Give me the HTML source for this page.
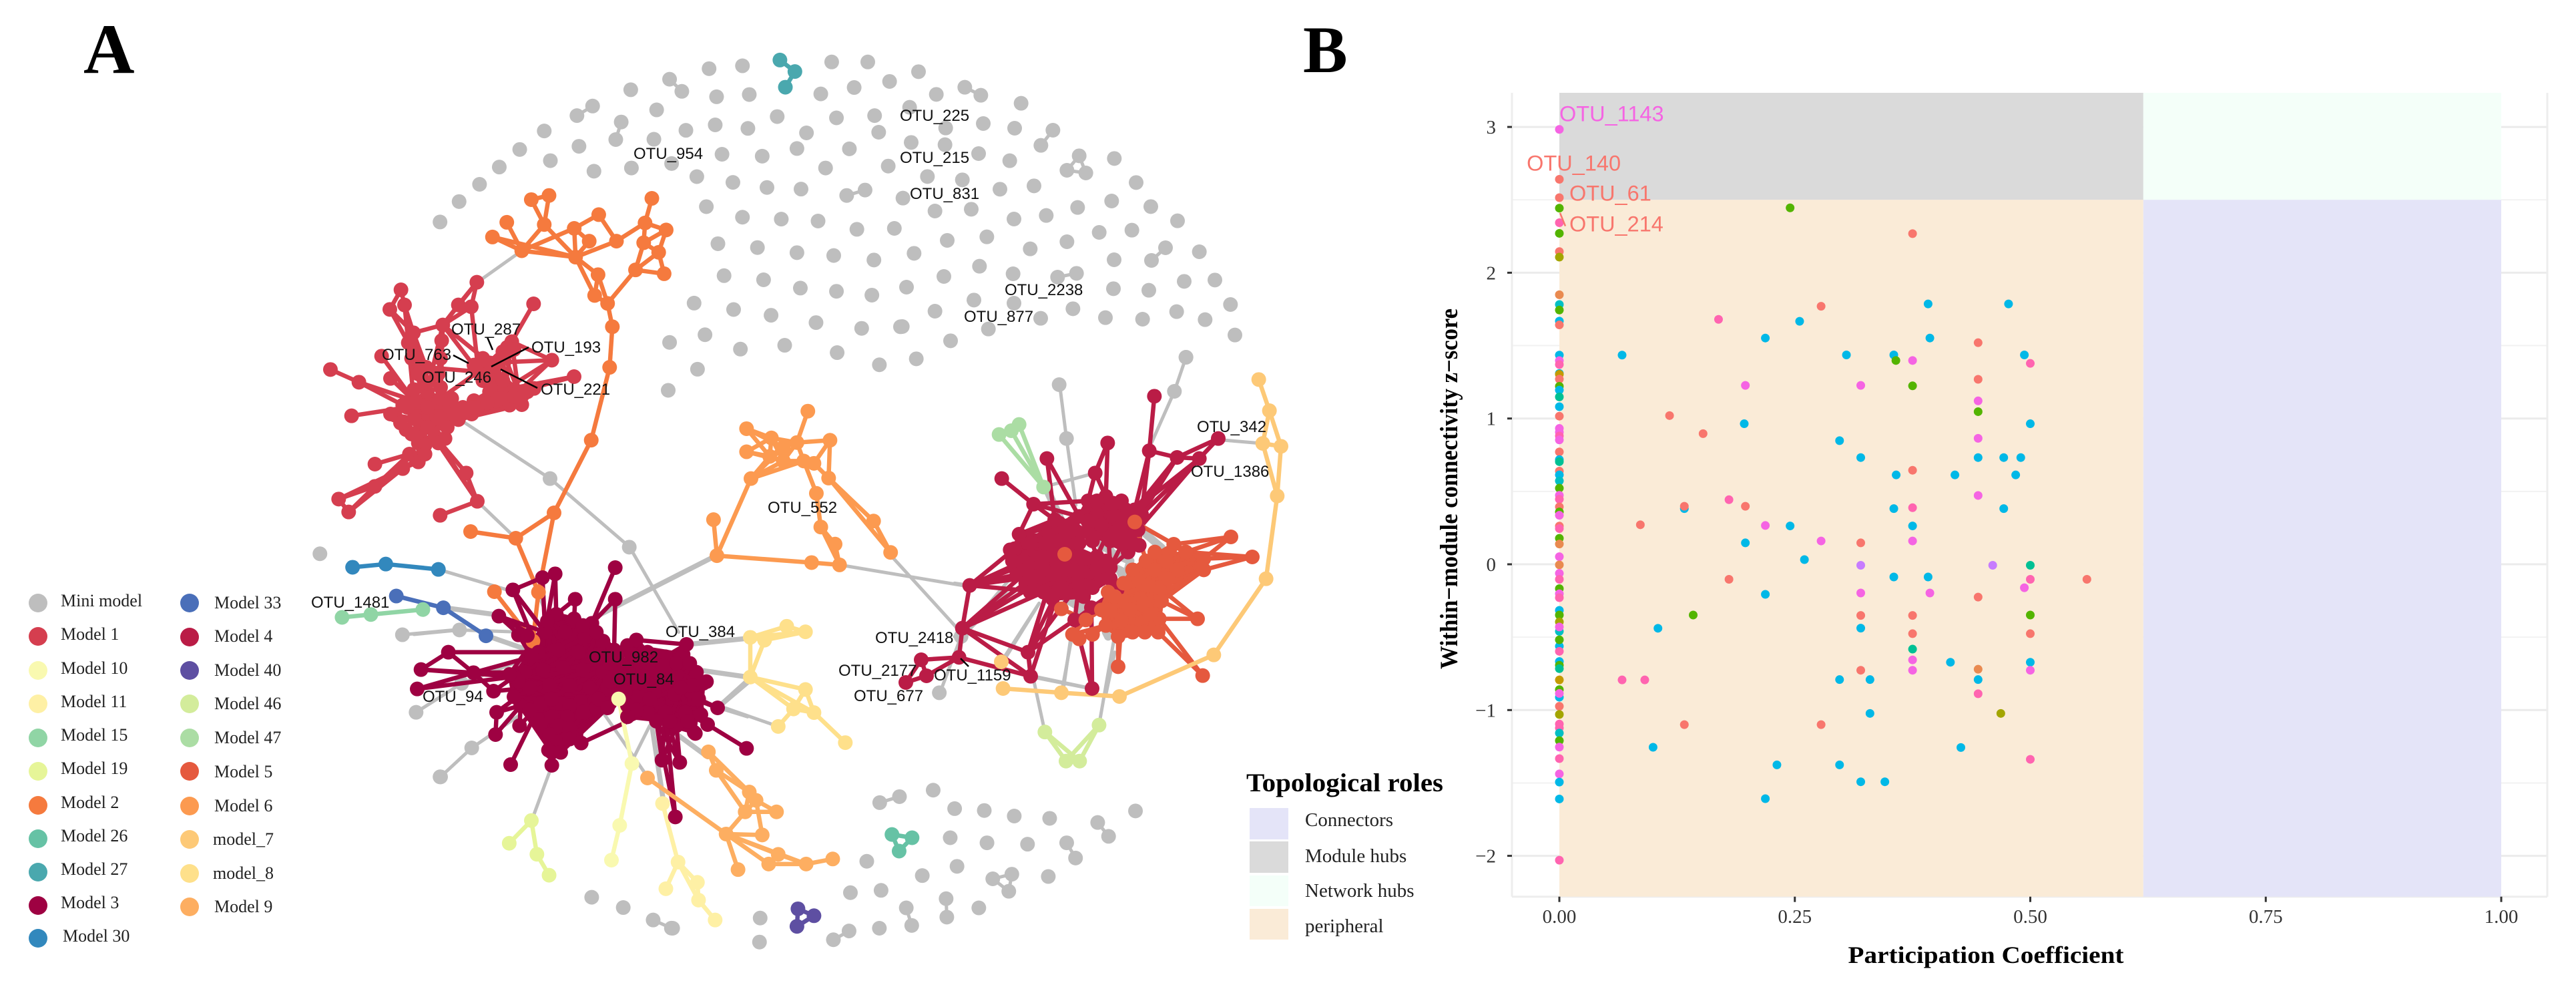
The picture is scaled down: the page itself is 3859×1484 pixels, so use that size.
<!DOCTYPE html>
<html lang="en">
<head>
<meta charset="utf-8">
<title>Co-occurrence network and topological roles</title>
<style>
html,body{margin:0;padding:0;background:#fff;}
svg{display:block;}
.serif{font-family:"Liberation Serif",serif;}
.sans{font-family:"Liberation Sans",sans-serif;}
.otu{font-family:"Liberation Sans",sans-serif;font-size:24px;fill:#111;}
.leg{font-family:"Liberation Serif",serif;font-size:26px;fill:#222;}
.role{font-family:"Liberation Serif",serif;font-size:29px;fill:#222;}
.tick{font-family:"Liberation Serif",serif;font-size:29px;fill:#333;}
.role-label{font-family:"Liberation Sans",sans-serif;font-size:32.5px;}
</style>
</head>
<body>
<svg id="fig" xmlns="http://www.w3.org/2000/svg" width="3859" height="1484" viewBox="0 0 3859 1484">
  <rect x="0" y="0" width="3859" height="1484" fill="#fff"/>
  <text class="serif" x="125" y="109" font-size="106" font-weight="700" fill="#000">A</text>
  <text class="serif" x="1952" y="108" font-size="100" font-weight="700" fill="#000">B</text>

  <g id="network"></g>

  <g>
    <line x1="730" y1="505" x2="738" y2="524" stroke="#000" stroke-width="2.5"/>
    <line x1="679" y1="532" x2="702" y2="544" stroke="#000" stroke-width="2.5"/>
    <line x1="792" y1="520" x2="736" y2="549" stroke="#000" stroke-width="2.5"/>
    <line x1="805" y1="581" x2="750" y2="553" stroke="#000" stroke-width="2.5"/>
    <line x1="1439" y1="986" x2="1451" y2="998" stroke="#000" stroke-width="2.5"/>
    <text class="otu" x="1348" y="181">OTU_225</text>
    <text class="otu" x="1348" y="244">OTU_215</text>
    <text class="otu" x="1363" y="298">OTU_831</text>
    <text class="otu" x="949" y="238">OTU_954</text>
    <text class="otu" x="1505" y="442">OTU_2238</text>
    <text class="otu" x="1444" y="482">OTU_877</text>
    <text class="otu" x="676" y="501">OTU_287</text>
    <text class="otu" x="572" y="539">OTU_763</text>
    <text class="otu" x="796" y="528">OTU_193</text>
    <text class="otu" x="632" y="573">OTU_246</text>
    <text class="otu" x="810" y="591">OTU_221</text>
    <text class="otu" x="1150" y="768">OTU_552</text>
    <text class="otu" x="1793" y="647">OTU_342</text>
    <text class="otu" x="1784" y="714">OTU_1386</text>
    <text class="otu" x="1311" y="963">OTU_2418</text>
    <text class="otu" x="1256" y="1012">OTU_2177</text>
    <text class="otu" x="1399" y="1019">OTU_1159</text>
    <text class="otu" x="1279" y="1050">OTU_677</text>
    <text class="otu" x="997" y="954">OTU_384</text>
    <text class="otu" x="882" y="992">OTU_982</text>
    <text class="otu" x="919" y="1025">OTU_84</text>
    <text class="otu" x="633" y="1051">OTU_94</text>
    <text class="otu" x="466" y="910">OTU_1481</text>
  </g>

  <g>
    <g><circle cx="57" cy="903" r="14" fill="#BEBEBE"/><text class="leg" x="91" y="908">Mini model</text></g>
    <g><circle cx="57" cy="953" r="14" fill="#D53E4F"/><text class="leg" x="91" y="958">Model 1</text></g>
    <g><circle cx="57" cy="1004" r="14" fill="#F9F9B0"/><text class="leg" x="91" y="1009">Model 10</text></g>
    <g><circle cx="57" cy="1054" r="14" fill="#FEF0A5"/><text class="leg" x="91" y="1059">Model 11</text></g>
    <g><circle cx="57" cy="1105" r="14" fill="#90D5A5"/><text class="leg" x="91" y="1109">Model 15</text></g>
    <g><circle cx="57" cy="1155" r="14" fill="#E6F598"/><text class="leg" x="91" y="1159">Model 19</text></g>
    <g><circle cx="57" cy="1206" r="14" fill="#F57A3E"/><text class="leg" x="91" y="1210">Model 2</text></g>
    <g><circle cx="57" cy="1256" r="14" fill="#66C2A5"/><text class="leg" x="91" y="1260">Model 26</text></g>
    <g><circle cx="57" cy="1306" r="14" fill="#4AA8AE"/><text class="leg" x="91" y="1310">Model 27</text></g>
    <g><circle cx="57" cy="1356" r="14" fill="#9E0142"/><text class="leg" x="91" y="1360">Model 3</text></g>
    <g><circle cx="57" cy="1405" r="14" fill="#3288BD"/><text class="leg" x="94" y="1410">Model 30</text></g>
    <g><circle cx="284" cy="903" r="14" fill="#4A6FB9"/><text class="leg" x="321" y="911">Model 33</text></g>
    <g><circle cx="284" cy="954" r="14" fill="#BA1C46"/><text class="leg" x="321" y="961">Model 4</text></g>
    <g><circle cx="284" cy="1004" r="14" fill="#5E4FA2"/><text class="leg" x="321" y="1012">Model 40</text></g>
    <g><circle cx="284" cy="1054" r="14" fill="#D3EC9B"/><text class="leg" x="321" y="1062">Model 46</text></g>
    <g><circle cx="284" cy="1105" r="14" fill="#ABDDA4"/><text class="leg" x="321" y="1113">Model 47</text></g>
    <g><circle cx="284" cy="1155" r="14" fill="#E5593E"/><text class="leg" x="321" y="1164">Model 5</text></g>
    <g><circle cx="284" cy="1207" r="14" fill="#FC9A50"/><text class="leg" x="321" y="1215">Model 6</text></g>
    <g><circle cx="284" cy="1257" r="14" fill="#FDC977"/><text class="leg" x="319" y="1265">model_7</text></g>
    <g><circle cx="284" cy="1308" r="14" fill="#FEE08B"/><text class="leg" x="319" y="1316">model_8</text></g>
    <g><circle cx="284" cy="1358" r="14" fill="#FDAE61"/><text class="leg" x="321" y="1366">Model 9</text></g>
  </g>

  <g>
    <text class="serif" x="1867" y="1185" font-size="39" font-weight="700" fill="#000" textLength="295" lengthAdjust="spacingAndGlyphs">Topological roles</text>
    <g><rect x="1872" y="1210" width="58" height="47" fill="#E4E4F8"/><text class="role" x="1955" y="1237">Connectors</text></g>
    <g><rect x="1872" y="1260" width="58" height="47" fill="#DADADA"/><text class="role" x="1955" y="1291">Module hubs</text></g>
    <g><rect x="1872" y="1311" width="58" height="46" fill="#F4FFF9"/><text class="role" x="1955" y="1343">Network hubs</text></g>
    <g><rect x="1872" y="1361" width="58" height="46" fill="#FAEBD7"/><text class="role" x="1955" y="1396">peripheral</text></g>
  </g>

  <g id="rolesChart"></g>

  <text class="serif" transform="translate(2183,732) rotate(-90)" text-anchor="middle" font-size="37" font-weight="700" fill="#000" textLength="540" lengthAdjust="spacingAndGlyphs">Within−module connectivity z−score</text>
  <text class="serif" x="2975" y="1442" text-anchor="middle" font-size="36" font-weight="700" fill="#000" textLength="413" lengthAdjust="spacingAndGlyphs">Participation Coefficient</text>
</svg>

<script>
/* ---------- Panel B data: participation coefficient vs within-module z-score ---------- */
const xTickValues = [0, 0.25, 0.5, 0.75, 1];
const xTickLabels = ['0.00', '0.25', '0.50', '0.75', '1.00'];
const yTickValues = [-2, -1, 0, 1, 2, 3];
const yTickLabels = ['−2', '−1', '0', '1', '2', '3'];
const yMinorValues = [-1.5, -0.5, 0.5, 1.5, 2.5];
const roleCutX = 0.62;
const roleCutY = 2.5;
const domainXMax = 1;
const domainYMin = -2.28;
const domainYMax = 3.234;
const moduleKeys = ['b', 'r', 'm', 'p', 'g', 't', 'c', 'v', 'o', 'd', 'a'];
const moduleHues = ['#00B8E7', '#F8766D', '#F564E3', '#FF64B0', '#53B400', '#00C094', '#00BFC4', '#C77CFF', '#A3A500', '#C49A00', '#E98A50'];
const columnY = [2.983,2.641,2.515,2.443,2.343,2.27,2.145,2.107,1.849,1.782,1.744,1.668,1.642,1.435,1.397,1.37,1.309,1.303,1.27,1.221,1.195,1.148,1.081,1.016,.932,.906,.88,.853,.771,.718,.704,.639,.613,.572,.522,.473,.446,.394,.359,.336,.262,.245,.178,.139,.052,-.004,-.062,-.103,-.167,-.202,-.229,-.316,-.348,-.395,-.46,-.43,-.562,-.518,-.597,-.667,-.693,-.716,-.793,-.86,-.912,-.886,-.974,-1.03,-1.096,-1.123,-1.158,-1.21,-1.254,-1.333,-1.438,-1.494,-1.61,-2.03];
const columnModule = ['m','r','r','g','p','g','r','o','a','c','g','b','r','b','m','p','b','d','r','g','b','t','b','r','m','m','p','m','r','b','t','r','b','c','g','m','p','r','g','m','r','p','g','a','m','a','m','p','g','m','p','b','g','o','c','m','b','g','p','b','g','t','d','g','b','m','r','o','p','p','c','g','m','p','m','b','b','p'];
const scatterX = [.245,.375,.2779,.3915,.4769,.169,.2551,.2187,.3934,.4446,.3048,.3551,.4937,.3573,.375,.5,.1975,.32,.375,.4446,.4446,.4446,.117,.1526,.1963,.5,.2975,.4446,.32,.4446,.4718,.4899,.375,.3576,.42,.4845,.4446,.1801,.1327,.1327,.1975,.3551,.375,.4718,.2187,.245,.375,.2779,.375,.32,.1975,.2602,.32,.4601,.5,.1801,.3551,.3915,.5,.5601,.4937,.2187,.32,.3934,.4446,.1421,.32,.375,.5,.32,.375,.5,.375,.375,.4152,.5,.4446,.32,.375,.5,.2975,.3298,.4446,.4446,.3298,.4687,.1327,.2779,.4263,.5,.231,.2975,.32,.3456,.2187,.0666,.0907,.0995,.1047,.086,.0666];
const scatterY = [2.445,2.268,1.77,1.786,1.786,1.68,1.667,1.552,1.552,1.52,1.436,1.436,1.436,1.398,1.398,1.378,1.227,1.227,1.224,1.269,1.121,1.047,1.02,.896,.964,.964,.848,.864,.732,.732,.732,.732,.645,.613,.613,.613,.472,.443,.382,.398,.398,.382,.388,.382,.266,.263,.263,.16,.16,.147,.147,.032,-.007,-.007,-.007,-.103,-.087,-.087,-.103,-.103,-.161,-.206,-.197,-.197,-.225,-.348,-.351,-.351,-.348,-.438,-.476,-.476,-.582,-.656,-.672,-.672,-.72,-.727,-.727,-.727,-.791,-.791,-.791,-.888,-1.023,-1.023,-1.1,-1.1,-1.257,-1.338,-1.376,-1.376,-1.492,-1.492,-1.608,-.793,-.793,-1.255,-.439,.271,1.435];
const scatterModule = ['g','r','r','b','b','p','b','b','b','r','b','b','b','g','m','p','m','m','g','r','m','g','r','r','b','b','b','m','b','b','b','b','r','b','b','b','m','p','b','r','r','b','p','b','m','b','b','m','m','r','b','b','v','v','t','r','b','b','p','r','m','b','m','m','r','g','r','r','g','b','r','r','t','m','b','b','a','r','m','m','b','b','b','p','b','o','r','r','b','p','b','b','b','b','b','p','p','b','b','r','b'];
const roleRegions = ['Module hubs', 'Network hubs', 'peripheral', 'Connectors'];
const roleFills = ['#DADADA', '#F4FFF9', '#FAEBD7', '#E4E4F8'];

/* ---------- Panel A data: layout coordinates read per reference region ---------- */
function region(ox, oy, sx, sy) {
  return function (pts) { return pts.map(function (p) { return [ox + p[0] / sx, oy + p[1] / sy]; }); };
}
const layoutA = region(0, 0, 0.98, 2.0907);
const layoutB = region(0, 650, 1.206, 1.88);
const layoutC = region(1000, 400, 1.96, 1.4465);
const layoutD = region(470, 410, 3, 3);
const layoutE = region(620, 780, 3, 3);
const layoutF = region(1430, 520, 3, 3);
const layoutG = region(1350, 100, 3, 3);
function span(a, b) { const o = []; for (let i = a; i <= b; i++) o.push(i); return o; }

const miniNodesA = [[1041,215],[1090,206],[1221,194],[1274,194],[983,248],[1001,286],[926,281],[1052,303],[1100,296],[1205,294],[1254,274],[1306,255],[870,332],[847,362],[964,344],[1141,365],[1228,369],[1284,362],[912,382],[1050,391],[1007,408],[1098,402],[799,410],[1184,416],[1290,414],[904,437],[960,436],[850,458],[763,468],[1170,465],[1247,466],[808,503],[1060,483],[1119,489],[986,512],[927,526],[733,523],[872,536],[1212,526],[1304,520],[1023,553],[1076,571],[1126,587],[1176,592],[704,577],[1243,612],[1270,595],[674,631],[1037,647],[1090,680],[1147,686],[1201,692],[646,695],[1258,718],[1313,715],[1054,763],[1112,775],[1170,791],[1224,800],[1283,814],[1063,863],[1121,876],[1175,902],[1228,912],[1280,924],[1019,949],[1077,969],[1132,987],[1198,1010],[1322,1023],[1265,1028],[1035,1048],[983,1072],[1087,1093],[1152,1081],[1229,1104],[1291,1142],[1024,1156],[981,1222]];
const miniNodesG = [[78,22],[158,124],[286,92],[358,128],[539,164],[38,182],[369,255],[200,275],[510,276],[682,285],[628,353],[45,340],[197,350],[348,390],[488,422],[800,400],[745,465],[830,477],[958,412],[118,493],[275,508],[444,550],[597,535],[1056,520],[8,590],[152,648],[315,640],[507,684],[652,668],[793,632],[946,603],[1122,628],[1242,692],[207,780],[385,764],[890,744],[1037,734],[745,786],[580,818],[58,838],[1188,813],[1125,870],[1340,831],[957,867],[352,896],[192,942],[503,930],[703,945],[788,928],[24,990],[954,997],[1113,1004],[1272,964],[1410,958],[327,1048],[507,1062],[772,1087],[152,1098],[627,1130],[1480,1068],[918,1127],[1085,1134],[1238,1100],[1366,1136],[5,1167],[392,1178],[222,1231],[68,1312],[1500,1205],[1280,1305],[710,1428]];
const miniNodesC = [[780,1133],[623,1160],[681,1147],[843,1173],[930,1177],[1018,1189],[1122,1194],[1263,1203],[1295,1233],[1374,1178],[830,1236],[938,1247],[1057,1250],[1172,1247],[1198,1280],[585,1287],[850,1298],[748,1318],[1118,1320],[955,1325],[1011,1315],[1002,1352],[537,1355],[627,1350],[818,1368],[820,1408],[701,1388],[717,1426],[914,1388],[622,1432],[533,1438],[487,1457],[272,1410],[270,1462],[15,1432],[862,800],[798,922]];
const miniNodesB = [[1069,1304],[1126,1333],[1180,1368],[578,337],[727,565],[795,965],[1213,1391]];
const miniNodesE = [[968,118],[205,490],[215,730],[10,860],[260,1020],[120,1150]];
const miniNodesF = [[1040,45],[988,198],[503,410]];
const miniNodesD = [[1062,920]];
const miniPairsA = [[983,248,1001,286],[870,332,847,362],[912,382,904,437],[1243,612,1270,595]];
const miniPairsG = [[286,92,358,128],[682,285,628,353],[800,400,745,465],[745,465,830,477],[830,477,800,400],[1188,813,1125,870],[703,945,788,928]];
const miniPairsC = [[623,1160,681,1147],[1263,1203,1295,1233],[1172,1247,1198,1280],[955,1325,1011,1315],[1011,1315,1002,1352],[1002,1352,955,1325],[818,1368,820,1408],[701,1388,717,1426],[533,1438,487,1457]];
const miniPairsB = [[1180,1368,1213,1391]];

const bridgesA = [[766,785,700,885]];
const bridgesD = [[680,670,1062,920],[1062,920,1419,1227],[735,1022,905,1185]];
const bridgesE = [[970,118,1190,500],[458,78,600,430],[110,218,420,310],[0,510,205,490],[205,490,500,500],[10,860,215,730],[215,730,500,620],[120,1150,260,1020],[260,1020,480,870],[620,1100,530,1345],[1500,880,1370,840],[1500,730,1370,840],[850,860,1050,1150],[1060,920,990,1060]];
const bridgesB = [[727,565,830,550]];
const bridgesEThick = [[1360,155,820,430],[325,515,570,600],[1480,530,1230,555],[1490,700,1280,670],[1070,920,1120,1250],[1170,950,1320,1060],[135,390,360,420]];
const bridgesC = [[505,645,870,690],[650,620,860,790],[1067,885,1247,913],[1160,910,1190,790],[800,922,862,800],[862,800,1000,680],[985,855,1090,730],[1108,1007,1062,850],[1267,992,1310,810],[243,888,150,950],[325,995,170,955]];
const bridgesF = [[472,165,503,410],[503,410,545,710],[1040,45,988,198],[988,198,885,430],[1185,415,1380,432],[400,628,632,565],[520,1320,490,1530],[720,1370,680,1560],[35,1300,240,1090],[0,1300,180,1150],[210,1413,380,1150],[342,1480,620,1535],[0,1060,70,1070],[530,1000,600,1150]];
const bridgesFThick = [[610,850,720,930],[720,930,790,960],[790,960,760,1060],[760,1060,720,1100],[640,1020,580,1000],[860,840,930,900],[590,1100,560,1190],[500,1130,580,1180],[680,1280,690,1300],[480,780,480,880],[420,650,480,780],[780,1000,800,1060],[700,980,760,1010],[600,1010,640,1000],[660,900,700,900],[740,1000,780,1080]];

const nodesModel1 = layoutD([[510,600],[450,570],[570,560],[450,650],[570,650],[510,530],[510,690],[610,600],[420,600],[545,730],[480,740],[670,600],[720,570],[790,530],[860,520],[920,530],[740,440],[790,400],[850,350],[890,305],[760,480],[710,630],[650,655],[820,570],[935,588],[990,515],[1070,388],[1170,462],[988,135],[733,38],[708,148],[580,230],[505,420],[448,265],[425,310],[392,72],[408,140],[342,160],[305,370],[345,470],[203,487],[75,430],[170,638],[365,635],[415,700],[590,740],[470,760],[430,810],[470,845],[400,875],[275,855],[275,955],[112,1012],[157,1070],[685,895],[735,1022],[568,1085],[400,590],[450,520],[510,490],[570,510],[620,560],[630,630],[600,690],[560,760],[500,770],[440,720],[390,670],[345,630],[680,620],[720,600],[780,580],[840,560],[880,590],[900,550],[800,500],[850,480],[930,560],[960,530],[720,410],[760,380],[830,400],[810,440],[780,450],[870,330],[900,340],[440,380],[470,450],[575,300],[570,380],[560,450],[500,810],[650,140]]);
const cliquesModel1 = [span(0,10),[11,12,13,14,15,21,22,23,24,25],[13,14,15,16,17,18,19,20]];
const edgesModel1 = [[26,19],[26,17],[26,15],[26,14],[27,15],[27,14],[28,19],[29,30],[29,31],[30,31],[30,16],[31,5],[31,2],[31,16],[31,33],[32,5],[32,33],[32,1],[33,34],[35,36],[35,37],[36,33],[37,34],[36,34],[37,33],[34,1],[33,5],[38,1],[39,1],[40,8],[40,1],[41,40],[42,8],[43,8],[43,3],[44,3],[44,6],[45,9],[45,6],[46,10],[46,9],[47,46],[48,46],[47,48],[49,47],[49,48],[50,47],[51,49],[51,47],[52,51],[53,51],[52,53],[54,9],[55,54],[55,9],[55,6],[56,55],[7,11],[4,22],[2,11],[0,11],[32,16],[2,16],[31,17],[33,86],[86,87],[87,5],[31,88],[88,89],[89,90],[90,5],[88,90],[86,0],[89,2],[33,87],[34,87],[34,86],[32,87],[92,29],[92,31],[92,30],[91,9],[91,47],[91,48],[91,46],[49,91],[51,91],[52,49],[53,49]];

const nodesModel2 = layoutA([[780,625],[806,612],[744,696],[723,742],[766,785],[799,703],[843,715],[879,672],[865,755],[845,805],[905,755],[947,698],[957,621],[978,720],[945,760],[967,790],[975,857],[933,845],[878,860],[873,925],[892,950],[899,1023],[895,1150],[868,1378]]).concat(layoutE([[630,-36],[458,78],[255,48],[362,318],[560,320],[535,540]]));
const cliquesModel2 = [];
const edgesModel2 = [[0,1],[0,5],[1,5],[2,4],[3,4],[5,4],[5,9],[6,9],[6,4],[4,9],[3,9],[7,6],[7,10],[8,9],[6,8],[10,9],[10,11],[11,12],[11,13],[11,14],[13,14],[13,15],[14,15],[15,16],[14,17],[15,17],[17,16],[17,20],[9,18],[9,19],[18,19],[18,20],[19,20],[20,21],[21,22],[22,23],[23,24],[24,25],[24,28],[25,26],[25,28],[27,29],[28,29]];

const nodesModel3 = layoutE([[640,420],[720,440],[800,460],[590,500],[680,500],[770,520],[850,540],[560,590],[650,580],[740,590],[830,600],[900,580],[530,610],[500,680],[580,670],[670,660],[760,670],[850,680],[450,700],[520,750],[610,740],[700,740],[790,750],[870,760],[480,830],[570,820],[660,820],[750,810],[820,840],[620,880],[960,560],[1050,590],[1130,610],[1210,600],[1270,680],[1030,700],[1090,680],[1180,690],[1250,740],[1000,790],[1080,770],[1170,780],[1260,800],[1050,860],[1130,860],[1220,860],[1280,800],[1090,900],[1180,920],[1260,950],[900,620],[880,720],[950,770],[960,830],[900,700],[635,238],[578,255],[445,310],[725,352],[905,210],[905,352],[382,428],[470,512],[510,515],[155,590],[32,668],[268,682],[15,755],[358,765],[530,610],[372,860],[475,920],[367,960],[435,1095],[620,1098],[605,1030],[752,998],[1000,535],[1225,555],[1315,722],[1365,840],[1320,915],[1495,1022],[1265,955],[1115,1075],[1195,1085],[1175,1330],[920,650],[950,700],[920,780],[1000,850],[960,880],[1060,640],[1120,650],[1180,640],[1240,640],[1300,730],[1290,870],[1230,900],[1150,900],[1060,800],[1130,720],[1200,750],[1030,620],[980,600],[600,450],[760,470],[820,500],[470,720],[430,690],[450,790],[520,850],[620,800],[700,830],[690,880],[650,920],[700,930],[760,860],[830,800],[880,820],[610,960],[650,990],[700,980],[620,1040],[660,1040],[880,640],[870,840]]);
const cliquesModel3 = [span(0,29),span(30,49),[50,51,52,53,54,10,17,23,39,30,35],span(87,104),span(105,126)];
const edgesModel3 = [[55,56],[56,57],[55,0],[55,3],[56,3],[57,3],[57,8],[57,7],[58,1],[58,0],[59,2],[60,2],[60,11],[61,3],[61,7],[61,8],[62,7],[62,12],[63,7],[63,12],[69,7],[69,13],[64,65],[64,66],[64,7],[65,66],[65,18],[66,13],[66,18],[66,12],[67,66],[67,18],[68,66],[68,18],[68,19],[70,24],[70,19],[71,25],[71,24],[72,70],[72,24],[73,25],[74,75],[74,26],[74,29],[75,29],[75,26],[76,27],[76,43],[76,26],[77,31],[77,30],[78,77],[78,33],[78,32],[79,38],[79,42],[80,42],[80,46],[81,45],[81,46],[82,81],[83,45],[83,48],[84,47],[84,44],[84,48],[85,48],[85,47],[85,44],[86,47],[86,44]];

const nodesModel4 = layoutF([[600,690],[680,670],[750,690],[810,730],[840,750],[560,760],[640,750],[720,760],[800,790],[825,820],[600,830],[690,830],[770,850],[830,890],[780,920],[290,840],[270,905],[340,880],[430,850],[470,790],[530,790],[310,960],[390,950],[470,930],[530,880],[280,1020],[360,1030],[440,1020],[520,1000],[400,1100],[470,1080],[560,1060],[590,960],[640,940],[700,990],[610,1010],[660,1040],[730,1090],[540,1225],[615,1170],[898,220],[875,465],[1000,495],[1100,500],[1185,410],[688,430],[632,565],[415,500],[212,590],[355,705],[450,775],[68,1070],[35,1262],[330,1370],[342,1478],[618,1533],[20,1393],[-150,1404],[-219,1506],[-126,1476],[640,690],[710,700],[780,740],[660,800],[740,810],[600,780],[540,830],[500,840],[560,880],[620,870],[700,870],[760,880],[800,880],[260,960],[250,910],[320,1000],[320,1060],[410,880],[470,870],[400,1000],[460,970],[540,940],[570,1010],[640,990],[680,960],[700,1040],[620,1080],[580,1120],[440,1130],[340,1100],[500,1100]]);
const cliquesModel4 = [span(0,14),span(15,31),span(73,90)];
const edgesModel4 = [[40,41],[41,42],[41,4],[41,3],[42,43],[42,44],[43,44],[43,4],[42,4],[42,3],[43,9],[43,8],[43,3],[42,8],[45,46],[45,1],[46,1],[46,0],[47,50],[47,5],[48,49],[49,50],[49,15],[49,5],[49,0],[50,15],[50,19],[51,16],[51,25],[51,29],[51,26],[51,21],[52,51],[52,53],[52,54],[52,26],[52,29],[52,27],[53,23],[53,27],[53,30],[53,54],[53,31],[54,56],[54,30],[52,56],[56,57],[56,59],[57,58],[57,59],[58,59],[55,39],[55,38],[53,38],[10,33],[6,10],[11,33],[11,34],[33,34],[34,36],[35,33],[35,31],[36,37],[37,39],[39,31],[38,31],[38,39],[19,5],[20,5],[20,10],[24,10],[24,32],[32,35],[32,33],[28,35],[23,28],[51,22],[52,22],[34,37],[12,34],[14,34],[7,12]];

const nodesModel5 = layoutF([[860,960],[985,885],[1040,920],[1120,950],[1120,1000],[900,1000],[1000,1000],[830,1050],[920,1080],[760,1140],[850,1150],[930,1140],[690,1100],[660,1180],[750,1230],[840,1240],[920,1220],[680,1250],[735,1300],[800,1280],[855,1280],[915,1280],[1242,852],[1338,942],[1092,1220],[735,1435],[1115,1475],[495,930],[480,1175],[590,1225],[530,1290],[560,1310],[620,1290],[810,785],[800,1000],[760,1060],[700,1180],[790,1180],[870,1070],[960,1040],[950,960],[900,920],[720,1120],[880,1200]]);
const cliquesModel5 = [span(0,11),span(9,21),span(34,43)];
const edgesModel5 = [[22,1],[22,2],[22,3],[23,3],[23,4],[23,2],[24,8],[24,11],[24,16],[25,18],[25,14],[26,21],[26,16],[28,29],[29,30],[29,13],[30,31],[31,32],[32,17],[30,17],[33,1],[33,0],[3,8],[4,8],[3,11],[4,11]];

const nodesModel6 = layoutC([[412,312],[232,350],[477,375],[232,400],[245,458],[305,370],[380,380],[300,410],[340,420],[400,420],[430,425],[473,457],[437,490],[450,563],[492,600],[135,547],[145,625],[423,640],[505,645],[605,550],[655,618],[340,390]]);
const edgesModel6 = [[0,6],[1,5],[3,5],[1,7],[3,7],[4,7],[4,8],[5,6],[5,7],[6,21],[7,8],[8,9],[9,10],[6,2],[2,11],[2,10],[10,11],[9,12],[12,13],[13,14],[14,18],[13,18],[15,16],[16,4],[16,17],[17,18],[11,19],[19,20],[11,20],[6,9],[21,8],[4,21],[3,8],[1,21],[5,8],[7,21],[6,8],[4,9]];

const nodesModel7 = layoutF([[1367,145],[1415,285],[1385,432],[1467,445],[1450,668],[1400,1040],[1165,1382],[741,1569],[480,1552],[218,1533],[210,1413]]);
const edgesModel7 = [[0,1],[1,3],[1,2],[2,3],[2,4],[3,4],[4,5],[5,6],[6,7],[7,8],[8,9]];

const nodesModel8 = layoutC([[243,802],[285,808],[350,778],[405,790],[243,888],[405,915],[370,957],[325,995],[430,965],[522,1030]]);
const edgesModel8 = [[0,1],[0,2],[0,3],[2,3],[1,3],[0,4],[1,4],[4,5],[4,6],[4,8],[5,8],[6,7],[6,8],[5,6],[8,9]];

const nodesModel9 = layoutC([[120,1050],[143,1090],[240,1137],[260,1155],[320,1180],[228,1180],[278,1230],[172,1228],[207,1305],[325,1272],[297,1293],[407,1293],[485,1282]]).concat(layoutE([[1050,1155]]));
const edgesModel9 = [[0,1],[0,2],[1,2],[1,5],[2,3],[3,4],[2,5],[3,5],[5,4],[5,7],[3,6],[7,6],[7,8],[7,9],[7,10],[7,11],[9,10],[9,11],[10,11],[11,12],[13,7]];

const nodesModel10 = layoutE([[920,800],[980,1090],[925,1368],[888,1524]]);
const edgesModel10 = [[0,1],[1,2],[2,3]];
const nodesModel11 = layoutB([[1197,1040],[1225,1205],[1203,1280],[1260,1262],[1262,1312],[1292,1368]]);
const edgesModel11 = [[0,1],[1,2],[1,3],[1,4],[3,4],[4,5]];
const nodesModel19 = layoutB([[960,1088],[920,1152],[970,1183],[992,1242]]);
const edgesModel19 = [[0,1],[0,2],[2,3]];
const nodesModel15 = layoutB([[618,516],[670,508],[764,494]]);
const edgesModel15 = [[0,1],[1,2]];
const nodesModel30 = layoutB([[637,375],[697,366],[792,381]]);
const edgesModel30 = [[0,1],[1,2]];
const nodesModel33 = layoutB([[716,456],[801,489],[878,568]]);
const edgesModel33 = [[0,1],[1,2]];
const nodesModel47 = layoutF([[200,392],[255,375],[290,347],[400,628]]);
const edgesModel47 = [[0,1],[1,2],[0,3],[1,3],[2,3]];
const nodesModel46 = layoutC([[1108,1007],[1267,992],[1170,1070],[1210,1070]]);
const edgesModel46 = [[0,2],[0,3],[1,2],[1,3],[2,3]];
const nodesModel27 = layoutA([[1145,188],[1167,224],[1153,273]]);
const edgesModel27 = [[0,1],[1,2]];
const nodesModel40 = layoutC([[383,1390],[430,1405],[380,1428]]);
const edgesModel40 = [[0,1],[1,2],[2,0]];
const nodesModel26 = layoutC([[659,1229],[718,1236],[680,1265]]);
const edgesModel26 = [[0,1],[1,2],[2,0]];

const miniColor = '#BEBEBE';
const moduleOrder = [
  ['model-2', '#F57A3E', nodesModel2, edgesModel2, cliquesModel2],
  ['model-1', '#D53E4F', nodesModel1, edgesModel1, cliquesModel1],
  ['model-6', '#FC9A50', nodesModel6, edgesModel6, []],
  ['model-4', '#BA1C46', nodesModel4, edgesModel4, cliquesModel4],
  ['model-5', '#E5593E', nodesModel5, edgesModel5, cliquesModel5],
  ['model-3', '#9E0142', nodesModel3, edgesModel3, cliquesModel3],
  ['model-7', '#FDC977', nodesModel7, edgesModel7, []],
  ['model-8', '#FEE08B', nodesModel8, edgesModel8, []],
  ['model-9', '#FDAE61', nodesModel9, edgesModel9, []],
  ['model-10', '#F9F9B0', nodesModel10, edgesModel10, []],
  ['model-11', '#FEF0A5', nodesModel11, edgesModel11, []],
  ['model-19', '#E6F598', nodesModel19, edgesModel19, []],
  ['model-15', '#90D5A5', nodesModel15, edgesModel15, []],
  ['model-30', '#3288BD', nodesModel30, edgesModel30, []],
  ['model-33', '#4A6FB9', nodesModel33, edgesModel33, []],
  ['model-47', '#ABDDA4', nodesModel47, edgesModel47, []],
  ['model-46', '#D3EC9B', nodesModel46, edgesModel46, []],
  ['model-27', '#4AA8AE', nodesModel27, edgesModel27, []],
  ['model-40', '#5E4FA2', nodesModel40, edgesModel40, []],
  ['model-26', '#66C2A5', nodesModel26, edgesModel26, []]
];

/* ---------- Drawing helpers ---------- */
const NS = 'http://www.w3.org/2000/svg';
function make(tag, parent, attrs) {
  const el = document.createElementNS(NS, tag);
  for (const k in attrs) el.setAttribute(k, attrs[k]);
  parent.appendChild(el);
  return el;
}

/* ---------- Network ---------- */
const net = document.getElementById('network');
const nodeRadius = 11;
const edgeWidth = 6.5;

function drawSegments(list, project, width, label) {
  list.forEach(function (s) {
    const p = project([[s[0], s[1]], [s[2], s[3]]]);
    const line = make('line', net, { x1: p[0][0], y1: p[0][1], x2: p[1][0], y2: p[1][1], stroke: miniColor, 'stroke-width': width, 'stroke-linecap': 'round' });
    
    
  });
}
drawSegments(miniPairsA, layoutA, 5, 'mini-model-edge');
drawSegments(miniPairsG, layoutG, 5, 'mini-model-edge');
drawSegments(miniPairsC, layoutC, 5, 'mini-model-edge');
drawSegments(miniPairsB, layoutB, 5, 'mini-model-edge');
drawSegments(bridgesA, layoutA, 5, 'between-module-edge');
drawSegments(bridgesB, layoutB, 5, 'between-module-edge');
drawSegments(bridgesD, layoutD, 5, 'between-module-edge');
drawSegments(bridgesE, layoutE, 5, 'between-module-edge');
drawSegments(bridgesEThick, layoutE, 7.5, 'between-module-edge');
drawSegments(bridgesC, layoutC, 5, 'between-module-edge');
drawSegments(bridgesF, layoutF, 5, 'between-module-edge');
drawSegments(bridgesFThick, layoutF, 12, 'between-module-edge');

function drawMini(list, project) {
  project(list).forEach(function (p) {
    const c = make('circle', net, { cx: p[0], cy: p[1], r: nodeRadius, fill: miniColor });
    
    
  });
}
drawMini(miniNodesA, layoutA);
drawMini(miniNodesG, layoutG);
drawMini(miniNodesC, layoutC);
drawMini(miniNodesB, layoutB);
drawMini(miniNodesE, layoutE);
drawMini(miniNodesF, layoutF);
drawMini(miniNodesD, layoutD);

moduleOrder.forEach(function (m) {
  const nodes = m[2];
  const pairs = m[3].slice();
  m[4].forEach(function (group) {
    for (let i = 0; i < group.length; i++) {
      for (let j = i + 1; j < group.length; j++) pairs.push([group[i], group[j]]);
    }
  });
  pairs.forEach(function (e) {
    const a = nodes[e[0]];
    const b = nodes[e[1]];
    const line = make('line', net, { x1: a[0], y1: a[1], x2: b[0], y2: b[1], stroke: m[1], 'stroke-width': edgeWidth });
    
    
  });
});
moduleOrder.forEach(function (m) {
  m[2].forEach(function (p) {
    const c = make('circle', net, { cx: p[0], cy: p[1], r: nodeRadius, fill: m[1] });
    
    
  });
});

/* ---------- Topological roles chart ---------- */
const chart = document.getElementById('rolesChart');
const panelLeft = 2265, panelRight = 3816;
function xScale(v) { return 2336 + v * 1411; }
function yScale(v) { return 845 - v * 218.3; }
function hue(key) { return moduleHues[moduleKeys.indexOf(key)]; }

yMinorValues.forEach(function (v) {
  const g = make('line', chart, { x1: panelLeft, x2: panelRight, y1: yScale(v), y2: yScale(v), stroke: '#F2F2F2', 'stroke-width': 2 });
  
  
});
yTickValues.forEach(function (v) {
  const g = make('line', chart, { x1: panelLeft, x2: panelRight, y1: yScale(v), y2: yScale(v), stroke: '#EBEBEB', 'stroke-width': 3 });
  
  
});
const borderLeft = make('line', chart, { x1: panelLeft, x2: panelLeft, y1: yScale(domainYMax), y2: yScale(domainYMin), stroke: '#EDEDED', 'stroke-width': 3 });


const borderRight = make('line', chart, { x1: panelRight, x2: panelRight, y1: yScale(domainYMax), y2: yScale(domainYMin), stroke: '#EDEDED', 'stroke-width': 3 });


const borderBottom = make('line', chart, { x1: panelLeft, x2: panelRight, y1: yScale(domainYMin), y2: yScale(domainYMin), stroke: '#EDEDED', 'stroke-width': 3 });



const regionBounds = [[0, roleCutX, roleCutY, domainYMax], [roleCutX, domainXMax, roleCutY, domainYMax], [0, roleCutX, domainYMin, roleCutY], [roleCutX, domainXMax, domainYMin, roleCutY]];
roleRegions.forEach(function (name, i) {
  const b = regionBounds[i];
  const r = make('rect', chart, { x: xScale(b[0]), y: yScale(b[3]), width: xScale(b[1]) - xScale(b[0]), height: yScale(b[2]) - yScale(b[3]), fill: roleFills[i] });
  
  
});

yTickValues.forEach(function (v, i) {
  const t = make('line', chart, { x1: panelLeft - 7, x2: panelLeft, y1: yScale(v), y2: yScale(v), stroke: '#333', 'stroke-width': 3 });
  
  
  const l = make('text', chart, { x: 2241, y: yScale(v) + 10, 'text-anchor': 'end', class: 'tick' });
  l.textContent = yTickLabels[i];
  
  
});
xTickValues.forEach(function (v, i) {
  const t = make('line', chart, { x1: xScale(v), x2: xScale(v), y1: yScale(domainYMin), y2: yScale(domainYMin) + 8, stroke: '#333', 'stroke-width': 3 });
  
  
  const l = make('text', chart, { x: xScale(v), y: 1382, 'text-anchor': 'middle', class: 'tick' });
  l.textContent = xTickLabels[i];
  
  
});

columnY.forEach(function (v, i) {
  const c = make('circle', chart, { cx: xScale(0), cy: yScale(v), r: 6.5, fill: hue(columnModule[i]) });
  
  
});
scatterX.forEach(function (v, i) {
  const c = make('circle', chart, { cx: xScale(v), cy: yScale(scatterY[i]), r: 6.5, fill: hue(scatterModule[i]) });
  
  
});

const leader = make('line', chart, { x1: xScale(0) + 1, y1: yScale(2.41), x2: xScale(0) + 9, y2: yScale(2.32), stroke: '#F8766D', 'stroke-width': 2.5 });



const hubLabelText = ['OTU_1143', 'OTU_140', 'OTU_61', 'OTU_214'];
const hubLabelX = [0, -0.0346, 0.0106, 0.0106];
const hubLabelY = [3.04, 2.7, 2.494, 2.284];
const hubLabelModule = ['m', 'r', 'r', 'r'];
hubLabelText.forEach(function (t, i) {
  const l = make('text', chart, { x: xScale(hubLabelX[i]), y: yScale(hubLabelY[i]), class: 'role-label', fill: hue(hubLabelModule[i]) });
  l.textContent = t;
  
  
});
</script>
</body>
</html>
